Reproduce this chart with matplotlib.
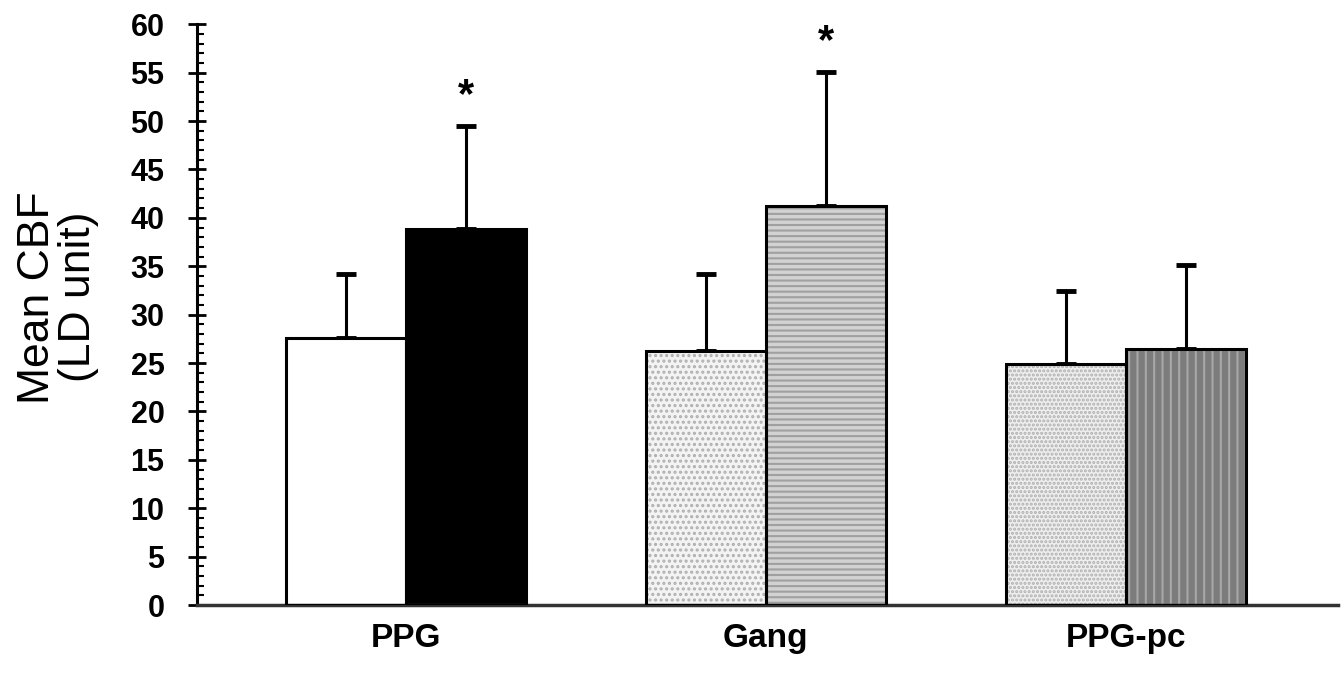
import numpy as np
import matplotlib.pyplot as plt
from matplotlib.ticker import MultipleLocator

# 数据
groups = ["PPG", "Gang", "PPG-pc"]
base_vals = [27.6, 26.2, 24.9]
base_err = [6.6, 8.0, 7.5]
treat_vals = [38.8, 41.2, 26.5]
treat_err = [10.7, 13.9, 8.6]
stars = [True, True, False]

# 样式
base_face = ["white", "#f3f3f3", "#eeeeee"]
base_hatch = [None, "...", "...."]
treat_face = ["black", "#d2d2d2", "#7c7c7c"]
treat_hatch = [None, "---", "||"]
base_hcol = ["white", "#b0b0b0", "#b0b0b0"]
treat_hcol = ["black", "#a0a0a0", "#a8a8a8"]

plt.rcParams['font.family'] = ['Liberation Sans', 'DejaVu Sans']
plt.rcParams['hatch.linewidth'] = 1.5

fig = plt.figure(figsize=(13.44, 6.73), dpi=100)
ax = fig.add_axes([0.1466, 0.101, 0.849, 0.863])

x = np.arange(len(groups))
w = 1 / 3

for i in range(len(groups)):
    for xc, v, e, fc, h, hc in [(x[i] - w / 2, base_vals[i], base_err[i], base_face[i], base_hatch[i], base_hcol[i]),
                                 (x[i] + w / 2, treat_vals[i], treat_err[i], treat_face[i], treat_hatch[i], treat_hcol[i])]:
        # 先画填充和阴影线
        ax.bar(xc, v, width=w, color=fc, hatch=h, edgecolor=hc, linewidth=0, zorder=2)
        # 再画黑色边框
        ax.bar(xc, v, width=w, facecolor="none", edgecolor="black", linewidth=2.2, zorder=3)
        # 误差线（只画上半部分）
        ax.errorbar(xc, v, yerr=[[0], [e]], fmt="none", ecolor="black",
                    elinewidth=2.2, capsize=7, capthick=3.5, zorder=1)
    if stars[i]:
        ax.text(x[i] + w / 2, treat_vals[i] + treat_err[i] + 1.0, "*", ha="center", va="bottom",
                fontsize=30, fontweight="bold")

ax.set_xlim(-0.58, 2.59)
ax.set_ylim(0, 60)
ax.set_xticks(x)
ax.set_xticklabels(groups, fontsize=24, fontweight="bold")
ax.tick_params(axis="x", length=0, pad=13)

ax.yaxis.set_major_locator(MultipleLocator(5))
ax.yaxis.set_minor_locator(MultipleLocator(1))
ax.tick_params(axis="y", which="major", direction="inout", length=13, width=2, labelsize=22, pad=17)
ax.tick_params(axis="y", which="minor", direction="in", length=5, width=1.5)
for lab in ax.get_yticklabels():
    lab.set_fontweight("bold")

ax.spines["top"].set_visible(False)
ax.spines["right"].set_visible(False)
ax.spines["left"].set_linewidth(2.2)
ax.spines["bottom"].set_linewidth(2.5)
ax.spines["bottom"].set_color("#333333")

ax.set_ylabel("Mean CBF\n(LD unit)", fontsize=32, linespacing=1.0, va="center")
ax.yaxis.set_label_coords(-0.122, 0.53)

plt.savefig("out.png", dpi=100)
